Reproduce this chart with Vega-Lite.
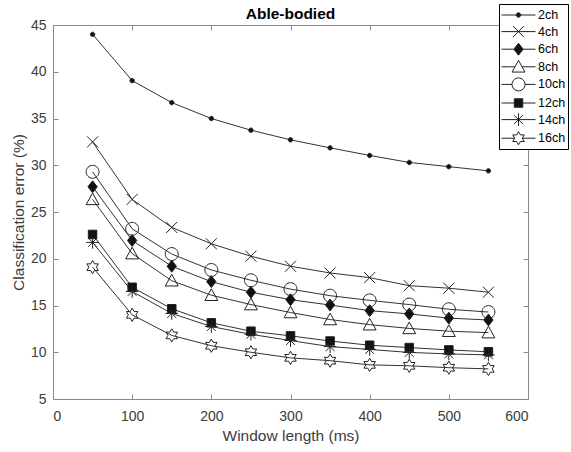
{
  "$schema": "https://vega.github.io/schema/vega-lite/v6.json",
  "width": 475,
  "height": 374,
  "autosize": {"type": "none"},
  "padding": {"left": 53, "top": 25, "right": 43, "bottom": 53},
  "background": "white",
  "config": {
    "view": {"stroke": null},
    "font": "Liberation Sans",
    "axis": {
      "grid": false,
      "domainColor": "#8a8a8a",
      "tickColor": "#8a8a8a",
      "domainWidth": 1,
      "tickWidth": 1,
      "labelFont": "Liberation Sans",
      "labelFontSize": 14,
      "labelColor": "#3c3c3c",
      "titleFont": "Liberation Sans",
      "titleFontSize": 15.5,
      "titleFontWeight": "normal",
      "titleColor": "#3c3c3c"
    },
    "legend": {
      "orient": "none", "legendX": 446, "legendY": -21, "title": null, "strokeColor": "#000000", "fillColor": "#ffffff", "padding": 2, "cornerRadius": 0, "symbolSize": 289, "symbolStrokeWidth": 1, "symbolStrokeColor": "#222222", "labelFont": "Liberation Sans", "labelFontSize": 12.5, "labelColor": "#000000", "labelOffset": 19, "rowPadding": 0.6, "symbolOpacity": 1
    }
  },
  "title": {
    "text": "Able-bodied",
    "font": "Liberation Sans",
    "fontSize": 15.5,
    "fontWeight": "bold",
    "color": "#000000",
    "anchor": "middle",
    "offset": -18.5
  },
  "data": {
    "values": [
      {"series": "2ch", "ms": 50, "err": 44.0}, {"series": "2ch", "ms": 100, "err": 39.05}, {"series": "2ch", "ms": 150, "err": 36.7}, {"series": "2ch", "ms": 200, "err": 35.0}, {"series": "2ch", "ms": 250, "err": 33.75}, {"series": "2ch", "ms": 300, "err": 32.72}, {"series": "2ch", "ms": 350, "err": 31.86}, {"series": "2ch", "ms": 400, "err": 31.05}, {"series": "2ch", "ms": 450, "err": 30.3}, {"series": "2ch", "ms": 500, "err": 29.85}, {"series": "2ch", "ms": 550, "err": 29.4},
      {"series": "4ch", "ms": 50, "err": 32.5}, {"series": "4ch", "ms": 100, "err": 26.35}, {"series": "4ch", "ms": 150, "err": 23.35}, {"series": "4ch", "ms": 200, "err": 21.6}, {"series": "4ch", "ms": 250, "err": 20.27}, {"series": "4ch", "ms": 300, "err": 19.2}, {"series": "4ch", "ms": 350, "err": 18.48}, {"series": "4ch", "ms": 400, "err": 17.98}, {"series": "4ch", "ms": 450, "err": 17.12}, {"series": "4ch", "ms": 500, "err": 16.85}, {"series": "4ch", "ms": 550, "err": 16.42},
      {"series": "6ch", "ms": 50, "err": 27.7}, {"series": "6ch", "ms": 100, "err": 21.95}, {"series": "6ch", "ms": 150, "err": 19.2}, {"series": "6ch", "ms": 200, "err": 17.55}, {"series": "6ch", "ms": 250, "err": 16.42}, {"series": "6ch", "ms": 300, "err": 15.62}, {"series": "6ch", "ms": 350, "err": 15.05}, {"series": "6ch", "ms": 400, "err": 14.45}, {"series": "6ch", "ms": 450, "err": 14.1}, {"series": "6ch", "ms": 500, "err": 13.65}, {"series": "6ch", "ms": 550, "err": 13.45},
      {"series": "8ch", "ms": 50, "err": 26.35}, {"series": "8ch", "ms": 100, "err": 20.55}, {"series": "8ch", "ms": 150, "err": 17.65}, {"series": "8ch", "ms": 200, "err": 16.1}, {"series": "8ch", "ms": 250, "err": 15.1}, {"series": "8ch", "ms": 300, "err": 14.25}, {"series": "8ch", "ms": 350, "err": 13.5}, {"series": "8ch", "ms": 400, "err": 12.95}, {"series": "8ch", "ms": 450, "err": 12.55}, {"series": "8ch", "ms": 500, "err": 12.25}, {"series": "8ch", "ms": 550, "err": 12.1},
      {"series": "10ch", "ms": 50, "err": 29.3}, {"series": "10ch", "ms": 100, "err": 23.2}, {"series": "10ch", "ms": 150, "err": 20.5}, {"series": "10ch", "ms": 200, "err": 18.8}, {"series": "10ch", "ms": 250, "err": 17.7}, {"series": "10ch", "ms": 300, "err": 16.75}, {"series": "10ch", "ms": 350, "err": 16.05}, {"series": "10ch", "ms": 400, "err": 15.55}, {"series": "10ch", "ms": 450, "err": 15.1}, {"series": "10ch", "ms": 500, "err": 14.6}, {"series": "10ch", "ms": 550, "err": 14.3},
      {"series": "12ch", "ms": 50, "err": 22.6}, {"series": "12ch", "ms": 100, "err": 16.95}, {"series": "12ch", "ms": 150, "err": 14.65}, {"series": "12ch", "ms": 200, "err": 13.15}, {"series": "12ch", "ms": 250, "err": 12.25}, {"series": "12ch", "ms": 300, "err": 11.75}, {"series": "12ch", "ms": 350, "err": 11.2}, {"series": "12ch", "ms": 400, "err": 10.75}, {"series": "12ch", "ms": 450, "err": 10.5}, {"series": "12ch", "ms": 500, "err": 10.25}, {"series": "12ch", "ms": 550, "err": 10.05},
      {"series": "14ch", "ms": 50, "err": 21.75}, {"series": "14ch", "ms": 100, "err": 16.5}, {"series": "14ch", "ms": 150, "err": 14.15}, {"series": "14ch", "ms": 200, "err": 12.75}, {"series": "14ch", "ms": 250, "err": 11.92}, {"series": "14ch", "ms": 300, "err": 11.25}, {"series": "14ch", "ms": 350, "err": 10.6}, {"series": "14ch", "ms": 400, "err": 10.3}, {"series": "14ch", "ms": 450, "err": 9.98}, {"series": "14ch", "ms": 500, "err": 9.82}, {"series": "14ch", "ms": 550, "err": 9.72},
      {"series": "16ch", "ms": 50, "err": 19.1}, {"series": "16ch", "ms": 100, "err": 14.0}, {"series": "16ch", "ms": 150, "err": 11.8}, {"series": "16ch", "ms": 200, "err": 10.7}, {"series": "16ch", "ms": 250, "err": 10.0}, {"series": "16ch", "ms": 300, "err": 9.4}, {"series": "16ch", "ms": 350, "err": 9.1}, {"series": "16ch", "ms": 400, "err": 8.65}, {"series": "16ch", "ms": 450, "err": 8.55}, {"series": "16ch", "ms": 500, "err": 8.35}, {"series": "16ch", "ms": 550, "err": 8.22}
    ]
  },
  "resolve": {
    "axis": {"x": "independent", "y": "independent"},
    "scale": {"shape": "independent", "fill": "independent", "stroke": "independent"}
  },
  "layer": [
    {
      "mark": {"type": "line", "color": "#333333", "strokeWidth": 1},
      "encoding": {
        "x": {"field": "ms", "type": "quantitative", "scale": {"domain": [0, 600], "nice": false},
              "axis": {"orient": "bottom", "values": [0, 100, 200, 300, 400, 500, 600], "tickSize": -5, "labelPadding": 15, "title": "Window length (ms)", "titlePadding": 5}},
        "y": {"field": "err", "type": "quantitative", "scale": {"domain": [5, 45], "nice": false, "zero": false},
              "axis": {"orient": "left", "values": [5, 10, 15, 20, 25, 30, 35, 40, 45], "tickSize": -5, "labelPadding": 12, "title": "Classification error (%)", "titlePadding": 4}},
        "detail": {"field": "series", "type": "nominal"}
      }
    },
    {
      "mark": {"type": "point", "filled": true, "stroke": "#222222", "strokeWidth": 1, "size": 289, "opacity": 1},
      "encoding": {
        "x": {"field": "ms", "type": "quantitative",
              "axis": {"orient": "top", "values": [0, 100, 200, 300, 400, 500, 600], "tickSize": -5, "labels": false, "title": null}},
        "y": {"field": "err", "type": "quantitative",
              "axis": {"orient": "right", "values": [5, 10, 15, 20, 25, 30, 35, 40, 45], "tickSize": -5, "labels": false, "title": null}},
        "shape": {"field": "series", "type": "nominal", "legend": null,
          "scale": {"domain": ["2ch", "4ch", "6ch", "8ch", "10ch", "12ch", "14ch", "16ch"],
            "range": [
              "M-0.26,0A0.26,0.26 0 1,0 0.26,0A0.26,0.26 0 1,0 -0.26,0Z",
              "M-0.65,-0.65L0.65,0.65M-0.65,0.65L0.65,-0.65",
              "M0,-0.7L0.55,0L0,0.7L-0.55,0Z",
              "M0,-0.75L0.76,0.62L-0.76,0.62Z",
              "M-0.76,0A0.76,0.76 0 1,0 0.76,0A0.76,0.76 0 1,0 -0.76,0Z",
              "M-0.5,-0.5H0.5V0.5H-0.5Z",
              "M0,-0.74V0.74M-0.74,0H0.74M-0.52,-0.52L0.52,0.52M-0.52,0.52L0.52,-0.52",
              "M0,-0.78L0.225,-0.39L0.675,-0.39L0.45,0L0.675,0.39L0.225,0.39L0,0.78L-0.225,0.39L-0.675,0.39L-0.45,0L-0.675,-0.39L-0.225,-0.39Z"
            ]}},
        "fill": {"field": "series", "type": "nominal", "legend": null,
          "scale": {"domain": ["2ch", "4ch", "6ch", "8ch", "10ch", "12ch", "14ch", "16ch"],
            "range": ["#111111", "transparent", "#111111", "transparent", "transparent", "#111111", "transparent", "transparent"]}}
      }
    },
    {
      "transform": [{"filter": "false"}],
      "mark": {"type": "point", "filled": true, "strokeWidth": 1, "size": 289, "opacity": 1},
      "encoding": {
        "x": {"field": "ms", "type": "quantitative", "axis": null},
        "y": {"field": "err", "type": "quantitative", "axis": null},
        "shape": {"field": "series", "type": "nominal", "legend": {},
          "scale": {"domain": ["2ch", "4ch", "6ch", "8ch", "10ch", "12ch", "14ch", "16ch"],
            "range": [
              "M-1,0H3M0.74,0A0.26,0.26 0 1,0 1.26,0A0.26,0.26 0 1,0 0.74,0Z",
              "M-1,0H3M0.35,-0.65L1.65,0.65M0.35,0.65L1.65,-0.65",
              "M-1,0H0.45M1.55,0H3M1,-0.7L1.55,0L1,0.7L0.45,0Z",
              "M-1,0H0.58M1.42,0H3M1,-0.75L1.76,0.62L0.24,0.62Z",
              "M-1,0H0.24M1.76,0H3M0.24,0A0.76,0.76 0 1,0 1.76,0A0.76,0.76 0 1,0 0.24,0Z",
              "M-1,0H0.5M1.5,0H3M0.5,-0.5H1.5V0.5H0.5Z",
              "M-1,0H3M1,-0.74V0.74M0.48,-0.52L1.52,0.52M0.48,0.52L1.52,-0.52",
              "M-1,0H0.55M1.45,0H3M1,-0.78L1.225,-0.39L1.675,-0.39L1.45,0L1.675,0.39L1.225,0.39L1,0.78L0.775,0.39L0.325,0.39L0.55,0L0.325,-0.39L0.775,-0.39Z"
            ]}},
        "fill": {"field": "series", "type": "nominal", "legend": {},
          "scale": {"domain": ["2ch", "4ch", "6ch", "8ch", "10ch", "12ch", "14ch", "16ch"],
            "range": ["#111111", "transparent", "#111111", "transparent", "transparent", "#111111", "transparent", "transparent"]}},
        "stroke": {"field": "series", "type": "nominal", "legend": {},
          "scale": {"domain": ["2ch", "4ch", "6ch", "8ch", "10ch", "12ch", "14ch", "16ch"],
            "range": ["#222222", "#222222", "#222222", "#222222", "#222222", "#222222", "#222222", "#222222"]}}
      }
    }
  ]
}
